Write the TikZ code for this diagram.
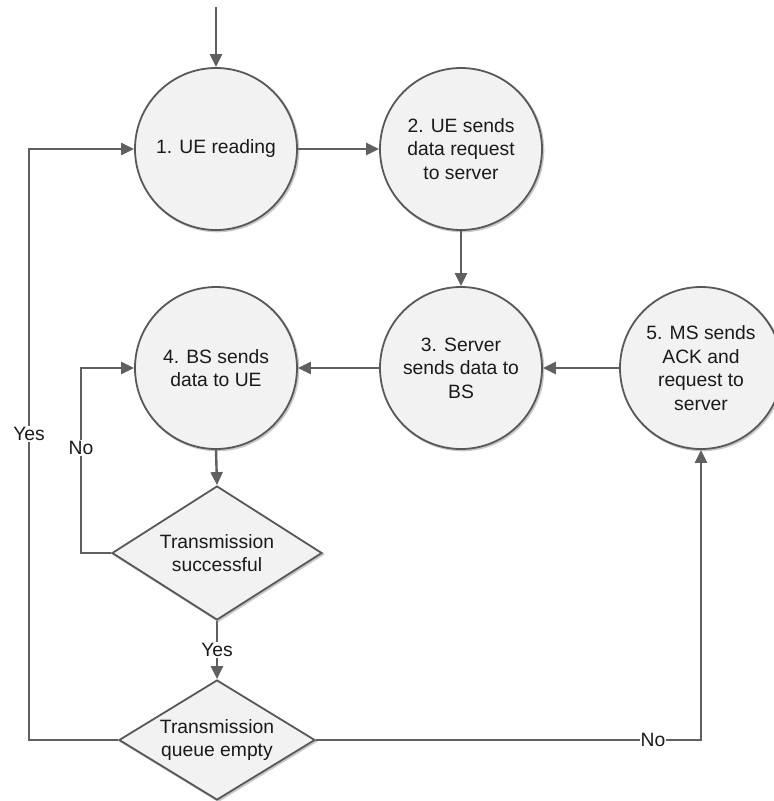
\documentclass[tikz,border=0pt]{standalone}
\usepackage{fontspec}
\setmainfont{Liberation Sans}
\usetikzlibrary{shapes.geometric,arrows.meta}

\definecolor{linegray}{HTML}{606060}
\definecolor{rimgray}{HTML}{585858}
\definecolor{inktext}{HTML}{1A1A1A}
\definecolor{bodyfill}{HTML}{F2F2F2}
\definecolor{shadegray}{HTML}{C8C8C8}

\tikzset{
  basefont/.style={font=\fontsize{19.3pt}{23.6pt}\selectfont, text=inktext},
  softshadow/.style={preaction={draw=shadegray, line width=2pt,
    transform canvas={xshift=1.3pt, yshift=-1.3pt}}},
  stage/.style={circle, basefont, draw=rimgray, line width=1.8pt,
    fill=bodyfill, minimum size=162pt,
    inner sep=0pt, align=center, softshadow},
  decision/.style={diamond, basefont, draw=rimgray, line width=1.8pt,
    fill=bodyfill, inner sep=0pt, align=center, softshadow},
  flow/.style={draw=linegray, line width=2.4pt,
    -{Triangle[length=13pt,width=12pt]}},
  tag/.style={basefont, fill=white, inner sep=1.5pt}
}

\begin{document}
\begin{tikzpicture}[x=1pt, y=-1pt]
  \useasboundingbox (0,0) rectangle (774,801);

  % process stages
  \node[stage] (ue)   at (216,149) {1. UE reading};
  \node[stage] (req)  at (461,149) {2. UE sends\\data request\\to server};
  \node[stage] (srv)  at (461,368) {3. Server\\sends data to\\BS};
  \node[stage] (bs)   at (216,368) {4. BS sends\\data to UE};
  \node[stage] (ack)  at (701,368) {5. MS sends\\ACK and\\request to\\server};

  % decisions
  \node[decision, aspect=1.57, minimum width=210pt, minimum height=134pt]
    (ok) at (217,553) {Transmission\\successful};
  \node[decision, aspect=1.63, minimum width=196pt, minimum height=120pt]
    (empty) at (217,740) {Transmission\\queue empty};

  % helper points for the loop-back lines
  \coordinate (entry) at (216,7);
  \coordinate (yesx)  at (29,0);
  \coordinate (nox)   at (81,0);
  \coordinate (ackx)  at (701,0);

  % main flow
  \draw[flow] (entry) -- (ue.north);
  \draw[flow] (ue.east) -- (req.west);
  \draw[flow] (req.south) -- (srv.north);
  \draw[flow] (ack.west) -- (srv.east);
  \draw[flow] (srv.west) -- (bs.east);
  \draw[flow] (bs.south) -- (ok.north);
  \draw[flow] (ok.south) -- node[tag] {Yes} (empty.north);

  % retry when the transmission fails
  \draw[flow] (ok.west) -- (ok.west -| nox) |- (bs.west);
  \node[tag] (nolbl) at (81,448) {No};

  % queue empty: back to reading
  \draw[flow] (empty.west) -- (empty.west -| yesx) |- (ue.west);
  \node[tag] (yeslbl) at (29,434) {Yes};

  % queue not empty: acknowledge and request more
  \draw[flow] (empty.east) -- (empty.east -| ackx) -- (ack.south);
  \node[tag, inner sep=0.5pt] (nolbl2) at (653,740) {No};
\end{tikzpicture}
\end{document}
